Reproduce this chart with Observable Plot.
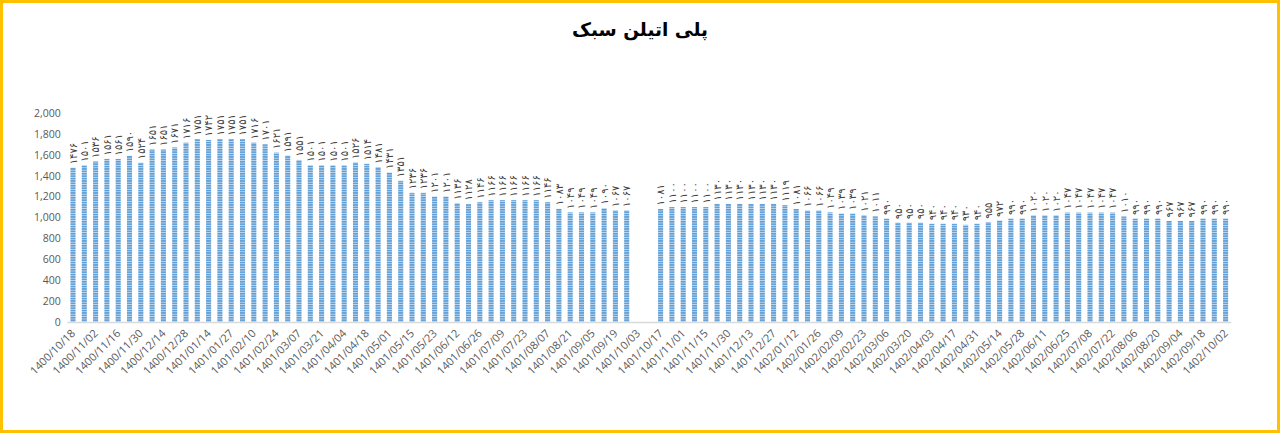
<!DOCTYPE html>
<html>
<head>
<meta charset="utf-8">
<script src="https://cdn.jsdelivr.net/npm/d3@7"></script>
<script src="https://cdn.jsdelivr.net/npm/@observablehq/plot@0.6"></script>
<style>
  html, body { margin: 0; padding: 0; background: #fff; }
  #frame { width: 1280px; height: 433px; box-sizing: border-box; border: 3px solid #FFC000; background: #fff; overflow: hidden; }
  #title { height: 50px; box-sizing: border-box; padding-top: 7px; line-height: 40px; text-align: center; font-family: "DejaVu Sans", sans-serif; font-weight: bold; font-size: 18.5px; color: #000; direction: rtl; }
</style>
</head>
<body>
<svg width="0" height="0" style="position:absolute">
  <defs>
    <pattern id="stripes" patternUnits="userSpaceOnUse" width="4" height="2.4">
      <rect width="4" height="2.4" fill="#5B9BD5"></rect>
      <rect y="1.5" width="4" height="0.9" fill="#C5DCF0"></rect>
    </pattern>
  </defs>
</svg>
<div id="frame">
  <div id="title">پلی اتیلن سبک</div>
  <div id="chart"></div>
</div>
<script>
const titleText = "پلی اتیلن سبک";

const dates = [
  "1400/10/18","1400/10/25","1400/11/02","1400/11/09","1400/11/16","1400/11/23","1400/11/30","1400/12/07","1400/12/14","1400/12/21",
  "1400/12/28","1401/01/06","1401/01/14","1401/01/20","1401/01/27","1401/02/03","1401/02/10","1401/02/17","1401/02/24","1401/02/31",
  "1401/03/07","1401/03/14","1401/03/21","1401/03/28","1401/04/04","1401/04/11","1401/04/18","1401/04/25","1401/05/01","1401/05/08",
  "1401/05/15","1401/05/19","1401/05/23","1401/06/05","1401/06/12","1401/06/19","1401/06/26","1401/07/02","1401/07/09","1401/07/16",
  "1401/07/23","1401/07/30","1401/08/07","1401/08/14","1401/08/21","1401/08/28","1401/09/05","1401/09/12","1401/09/19","1401/09/26",
  "1401/10/03","1401/10/10","1401/10/17","1401/10/24","1401/11/01","1401/11/08","1401/11/15","1401/11/22","1401/11/30","1401/12/06",
  "1401/12/13","1401/12/20","1401/12/27","1402/01/05","1402/01/12","1402/01/19","1402/01/26","1402/02/02","1402/02/09","1402/02/16",
  "1402/02/23","1402/02/30","1402/03/06","1402/03/13","1402/03/20","1402/03/27","1402/04/03","1402/04/10","1402/04/17","1402/04/24",
  "1402/04/31","1402/05/07","1402/05/14","1402/05/21","1402/05/28","1402/06/04","1402/06/11","1402/06/18","1402/06/25","1402/07/01",
  "1402/07/08","1402/07/15","1402/07/22","1402/07/29","1402/08/06","1402/08/13","1402/08/20","1402/08/27","1402/09/04","1402/09/11",
  "1402/09/18","1402/09/25","1402/10/02"
];

const prices = [
  1476,1501,1536,1561,1561,1590,1524,1651,1651,1671,
  1716,1751,1742,1751,1751,1751,1716,1701,1621,1591,
  1551,1501,1501,1501,1501,1526,1514,1481,1431,1351,
  1236,1236,1201,1201,1136,1128,1146,1166,1166,1166,
  1166,1166,1146,1083,1049,1049,1049,1090,1067,1067,
  null,null,1081,1100,1100,1100,1100,1130,1130,1130,
  1130,1130,1130,1119,1081,1066,1066,1049,1039,1039,
  1021,1011,990,950,950,950,940,940,940,930,
  940,955,972,990,990,1020,1020,1020,1047,1047,
  1047,1047,1047,1010,990,990,990,967,967,967,
  990,990,990
];

const yTicks = [0,200,400,600,800,1000,1200,1400,1600,1800,2000];
const xTickLabels = dates.filter((d, i) => i % 2 === 0);

const table = dates.map((d, i) => ({date: d, value: prices[i]}));
const bars = table.filter(d => d.value != null);

const faDigits = "۰۱۲۳۴۵۶۷۸۹";
const toFa = v => String(v).replace(/[0-9]/g, c => faDigits[+c]);

const chart = Plot.plot({
  width: 1274,
  height: 377,
  marginTop: 60,
  marginBottom: 108,
  marginLeft: 64.35,
  marginRight: 45.75,
  style: {fontFamily: "'Open Sans', sans-serif", background: "white", overflow: "visible"},
  x: {domain: dates, type: "band", paddingInner: 0.55, paddingOuter: 0.275, label: null},
  y: {domain: [0, 2000], label: null},
  marks: [
    Plot.barY(bars, {x: "date", y: "value", fill: "url(#stripes)"}),
    Plot.ruleY([0], {stroke: "#D9D9D9", strokeWidth: 1.3}),
    Plot.text(bars, {
      x: "date", y: "value", text: d => toFa(d.value),
      rotate: -90, textAnchor: "start", lineAnchor: "middle",
      dy: -4, fontSize: 10, fill: "#404040",
      fontFamily: "'DejaVu Sans', sans-serif"
    }),
    Plot.axisY(yTicks, {
      tickSize: 0, tickPadding: 7, tickFormat: d3.format(","),
      fontSize: 10.5, fill: "#595959", label: null
    }),
    Plot.axisX(xTickLabels, {
      tickSize: 0, tickPadding: 9, tickRotate: -45,
      fontSize: 11, fill: "#595959", label: null
    })
  ]
});
document.getElementById("chart").appendChild(chart);
</script>
</body>
</html>
